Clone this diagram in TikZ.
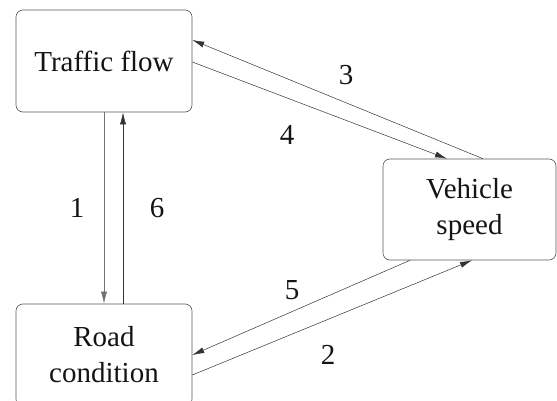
\documentclass[tikz,border=0pt]{standalone}
\usepackage{fontspec}
\setmainfont{Liberation Serif}
\usetikzlibrary{calc,arrows.meta}
\begin{document}
\begin{tikzpicture}[x=1pt,y=-1pt,
  box/.style={draw=black!65,line width=0.6pt,rounded corners=7pt,inner sep=0pt,
    minimum width=176pt,minimum height=102pt,align=center,
    font=\fontsize{29}{36}\selectfont,text=black!92},
  link/.style={draw=black!80,line width=0.5pt,-{Latex[length=12pt,width=6pt]}},
  lbl/.style={font=\fontsize{29}{30}\selectfont,text=black!92,inner sep=0pt}]
\useasboundingbox (0,0) rectangle (557,401);
\node[box] (trf) at (104,61) {Traffic flow};
\node[box] (rd) at (104,355) {Road\\condition};
\node[box,minimum width=173pt,minimum height=101pt] (veh) at (469.5,209.5) {Vehicle\\speed};
\draw[link,draw=black!55] (trf.south) -- (rd.north);
\draw[link] ($(rd.north)+(19,0)$) -- ($(trf.south)+(19,0)$);
\draw[link] ($(veh.north)+(13.5,0)$) -- ($(trf.east)+(0,-21)$);
\draw[link] ($(trf.east)+(0,1)$) -- ($(veh.north)+(-22.5,0)$);
\draw[link] ($(veh.south)+(-59.5,0)$) -- (rd.east);
\draw[link] ($(rd.east)+(0,20)$) -- ($(veh.south)+(2.5,0)$);
\node[lbl] (l1) at (77,208) {1};
\node[lbl] (l6) at (157,208) {6};
\node[lbl] (l3) at (346,75) {3};
\node[lbl] (l4) at (287,135) {4};
\node[lbl] (l5) at (292,290) {5};
\node[lbl] (l2) at (328,355) {2};
\end{tikzpicture}
\end{document}
